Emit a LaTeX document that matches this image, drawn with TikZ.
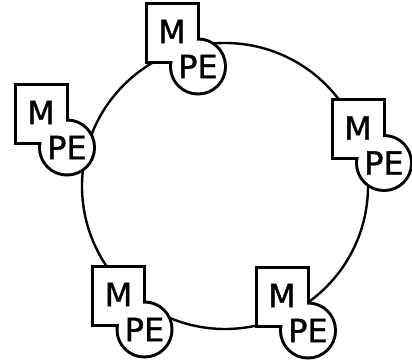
\documentclass[tikz,border=0pt]{standalone}
\usepackage{fontspec}
\newfontfamily\unitfont{DejaVu Sans}[FakeBold=1]
\usetikzlibrary{
  calc}

\tikzset{
  unit/.style={inner sep=0pt, outer sep=0pt, fill=white,
    font=\unitfont\fontsize{32}{32}\selectfont},
  memory/.style={unit, rectangle, minimum width=49pt, minimum height=56pt},
  proc/.style={unit, circle, minimum size=52pt},
  rim/.style={draw, line width=6pt}
}

\begin{document}
\begin{tikzpicture}[x=1pt,y=-1pt]
\useasboundingbox (0,0) rectangle (412,359);
\draw[line width=2.4pt] (225,186) circle[radius=143];
\foreach \x/\y [count=\k] in {172/32.5, 41/113.5, 358/129, 282/296.5, 118.5/295.5} {
  \node[memory, rim] (m\k) at (\x,\y) {};
  \node[proc, rim] (pe\k) at ($(m\k)+(26,34)$) {};
}
\foreach \k in {1,...,5} {
  \node[memory] (mlabel\k) at (m\k) {\raisebox{2pt}{M}\hspace{4pt}};
  \node[proc] (pelabel\k) at (pe\k) {PE};
}
\end{tikzpicture}
\end{document}
